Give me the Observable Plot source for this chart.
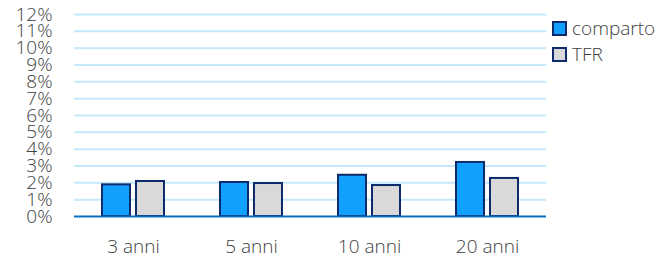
<!DOCTYPE html>
<html><head><meta charset="utf-8">
<script src="https://cdn.jsdelivr.net/npm/d3@7"></script>
<script src="https://cdn.jsdelivr.net/npm/@observablehq/plot@0.6"></script>
<style>
html,body{margin:0;padding:0;background:#fff}
body{width:656px;height:259px;overflow:hidden;position:relative;font-family:"Open Sans",sans-serif}
#legend{position:absolute;left:552px;top:15px;font-size:19px;color:#404040;font-weight:300;white-space:nowrap}
#legend .item{display:flex;align-items:center;height:26px}
#legend .sw{width:11px;height:11px;border:2px solid #0d2a6b;margin-right:5px;box-sizing:content-box}
</style></head><body>
<div id="chart"></div>
<div id="legend"></div>
<script>
const categories = ["3 anni", "5 anni", "10 anni", "20 anni"];
const seriesNames = ["comparto", "TFR"];
const compartoValues = [1.88, 2.02, 2.45, 3.21];
const tfrValues = [2.08, 1.96, 1.84, 2.26];
const yTicks = [0, 1, 2, 3, 4, 5, 6, 7, 8, 9, 10, 11, 12];
const colors = ["#12a0ff", "#d9d9d9"];

const data = [];
categories.forEach((c, i) => {
  data.push({cat: c, series: seriesNames[0], value: compartoValues[i]});
  data.push({cat: c, series: seriesNames[1], value: tfrValues[i]});
});

const chart = Plot.plot({
  width: 656,
  height: 259,
  marginLeft: 74,
  marginRight: 110,
  marginTop: 14,
  marginBottom: 43,
  style: {fontFamily: "'Open Sans', sans-serif", background: "#fff"},
  fx: {domain: categories, paddingInner: 0, paddingOuter: 0, label: null},
  x: {domain: seriesNames, paddingInner: 0.176, paddingOuter: 0.823, axis: null},
  y: {domain: [0, 12], axis: null},
  color: {domain: seriesNames, range: colors},
  marks: [
    Plot.ruleY(yTicks.filter(d => d > 0), {stroke: "#c3e8fb", strokeWidth: 2}),
    Plot.barY(data, {fx: "cat", x: "series", y: "value", fill: "series", stroke: "#0d2a6b", strokeWidth: 2}),
    Plot.ruleY([0], {stroke: "#0a6fc2", strokeWidth: 2}),
    Plot.axisY(yTicks, {tickSize: 0, tickPadding: 22, tickFormat: d => d + "%", fontSize: 19, fill: "#404040", fontWeight: 300, label: null}),
    Plot.axisFx({anchor: "bottom", tickSize: 0, tickPadding: 23, fontSize: 19, fill: "#404040", fontWeight: 300, label: null})
  ]
});
document.getElementById("chart").appendChild(chart);

const legend = document.getElementById("legend");
seriesNames.forEach((s, i) => {
  const it = document.createElement("div");
  it.className = "item";
  const sw = document.createElement("span");
  sw.className = "sw";
  sw.style.background = colors[i];
  const t = document.createElement("span");
  t.textContent = s;
  it.appendChild(sw); it.appendChild(t);
  legend.appendChild(it);
});
</script>
</body></html>
